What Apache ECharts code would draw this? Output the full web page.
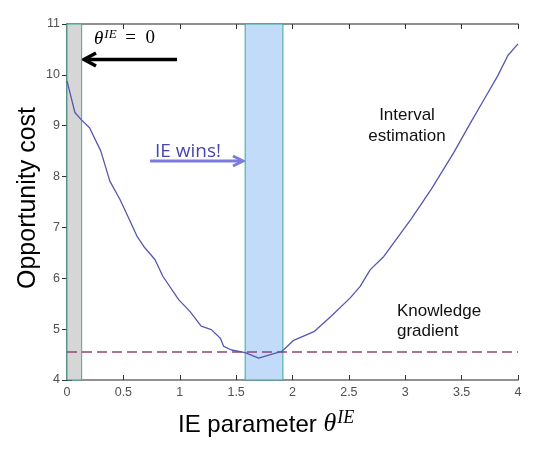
<!DOCTYPE html>
<html><head><meta charset="utf-8">
<script src="https://cdn.jsdelivr.net/npm/echarts@6/dist/echarts.min.js"></script>
<style>html,body{margin:0;padding:0;background:#fff}#c{width:541px;height:454px}</style>
</head><body><div id="c"></div>
<script>
// IE parameter values (x) and opportunity cost (y)
const theta = [0, 0.07, 0.13, 0.2, 0.3, 0.38, 0.47, 0.56, 0.62, 0.69, 0.78, 0.85, 0.99, 1.09, 1.19, 1.28, 1.36, 1.39, 1.46, 1.58, 1.7, 1.91, 2.01, 2.19, 2.34, 2.51, 2.6, 2.69, 2.81, 3.05, 3.23, 3.43, 3.58, 3.7, 3.82, 3.91, 4.0];
const cost  = [9.88, 9.26, 9.11, 8.96, 8.5, 7.91, 7.55, 7.12, 6.83, 6.6, 6.37, 6.04, 5.58, 5.35, 5.06, 4.99, 4.82, 4.66, 4.59, 4.54, 4.43, 4.57, 4.78, 4.95, 5.25, 5.61, 5.84, 6.17, 6.43, 7.16, 7.75, 8.47, 9.06, 9.52, 9.98, 10.38, 10.61];
const kgLevel = 4.56;           // knowledge gradient (dashed)
const grayBand = [0, 0.13];     // theta^IE = 0 band
const blueBand = [1.58, 1.915]; // IE wins band
const xRange = [0, 4], xStep = 0.5;
const yRange = [4, 11], yStep = 1;

const chart = echarts.init(document.getElementById('c'), null, {renderer: 'canvas'});
const axisLine = {show: true, lineStyle: {color: '#6e6e6e', width: 1.5}};
const tick = {show: true, inside: true, length: 5, lineStyle: {color: '#333', width: 1}};
const lbl = {color: '#505050', fontSize: 12.5, fontFamily: 'Liberation Sans, Arial, sans-serif'};
const xBase = {type: 'value', min: xRange[0], max: xRange[1], interval: xStep, splitLine: {show: false}, axisLine, axisTick: tick};
const yBase = {type: 'value', min: yRange[0], max: yRange[1], interval: yStep, splitLine: {show: false}, axisLine, axisTick: tick};

chart.setOption({
  animation: false,
  grid: {left: 67, right: 23, top: 24, bottom: 74},
  xAxis: [
    Object.assign({}, xBase, {position: 'bottom', axisLabel: Object.assign({margin: 6}, lbl)}),
    Object.assign({}, xBase, {position: 'top', axisLabel: {show: false}})
  ],
  yAxis: [
    Object.assign({}, yBase, {position: 'left', axisLabel: Object.assign({margin: 7}, lbl)}),
    Object.assign({}, yBase, {position: 'right', axisLabel: {show: false}})
  ],
  series: [{
    type: 'line',
    data: theta.map((t, i) => [t, cost[i]]),
    showSymbol: false,
    lineStyle: {color: '#5656b4', width: 1.3},
    z: 5,
    markArea: {
      silent: true,
      data: [
        [{xAxis: grayBand[0], yAxis: yRange[0], itemStyle: {color: '#d6d6d6', borderColor: '#3aa897', borderWidth: 1}},
         {xAxis: grayBand[1], yAxis: yRange[1]}],
        [{xAxis: blueBand[0], yAxis: yRange[0], itemStyle: {color: '#c2dbf9', borderColor: '#3aa897', borderWidth: 1}},
         {xAxis: blueBand[1], yAxis: yRange[1]}]
      ]
    },
    markLine: {
      silent: true,
      symbol: 'none',
      label: {show: false},
      lineStyle: {color: '#8c4a72', width: 1.5, type: [10, 5]},
      data: [{yAxis: kgLevel}]
    }
  }],
  graphic: [
    {type: 'text', x: 28, y: 198, rotation: Math.PI / 2,
     style: {text: 'Opportunity cost', font: '25px "Liberation Sans", Arial, sans-serif', fill: '#000', align: 'center', verticalAlign: 'middle'}},
    {type: 'text', x: 178, y: 409,
     style: {text: '{a|IE parameter }{b|θ}{c|IE}', fill: '#000',
       rich: {
         a: {fontSize: 24, fontFamily: 'Liberation Sans, Arial, sans-serif', lineHeight: 28, verticalAlign: 'bottom'},
         b: {fontSize: 26, fontFamily: 'Liberation Serif, serif', fontStyle: 'italic', lineHeight: 28, verticalAlign: 'bottom'},
         c: {fontSize: 18, fontFamily: 'Liberation Serif, serif', fontStyle: 'italic', verticalAlign: 'top', lineHeight: 16, padding: [0, 0, 0, 1]}
       }}},
    {type: 'text', x: 94, y: 28,
     style: {text: '{b|θ}{c|IE}{d| =  0}', fill: '#000',
       rich: {
         b: {fontSize: 19, fontFamily: 'Liberation Serif, serif', fontStyle: 'italic', lineHeight: 20, verticalAlign: 'bottom'},
         c: {fontSize: 13, fontFamily: 'Liberation Serif, serif', fontStyle: 'italic', verticalAlign: 'top', lineHeight: 11, padding: [0, 0, 0, 1]},
         d: {fontSize: 19, fontFamily: 'Liberation Serif, serif', lineHeight: 20, verticalAlign: 'bottom', padding: [0, 0, 0, 4]}
       }}},
    {type: 'polyline', shape: {points: [[177, 59.5], [86, 59.5]]}, style: {stroke: '#000', lineWidth: 3.5, fill: null}},
    {type: 'polyline', shape: {points: [[96, 53], [84, 59.5], [96, 66]]}, style: {stroke: '#000', lineWidth: 3.5, fill: null, lineJoin: 'miter'}},
    {type: 'text', x: 155, y: 152,
     style: {text: 'IE wins!', font: '19px "Open Sans", sans-serif', fill: '#4646b2', verticalAlign: 'middle'}},
    {type: 'polyline', shape: {points: [[150, 161], [241, 161]]}, style: {stroke: '#7c7cdf', lineWidth: 3, fill: null}},
    {type: 'polyline', shape: {points: [[233, 156], [243, 161], [233, 166]]}, style: {stroke: '#7c7cdf', lineWidth: 3, fill: null, lineJoin: 'miter'}},
    {type: 'text', x: 407, y: 125.5,
     style: {text: 'Interval\nestimation', font: '17px "Liberation Sans", Arial, sans-serif', fill: '#111', align: 'center', verticalAlign: 'middle', lineHeight: 21}},
    {type: 'text', x: 397, y: 321,
     style: {text: 'Knowledge\ngradient', font: '17px "Liberation Sans", Arial, sans-serif', fill: '#111', align: 'left', verticalAlign: 'middle', lineHeight: 20}}
  ]
});
</script></body></html>
